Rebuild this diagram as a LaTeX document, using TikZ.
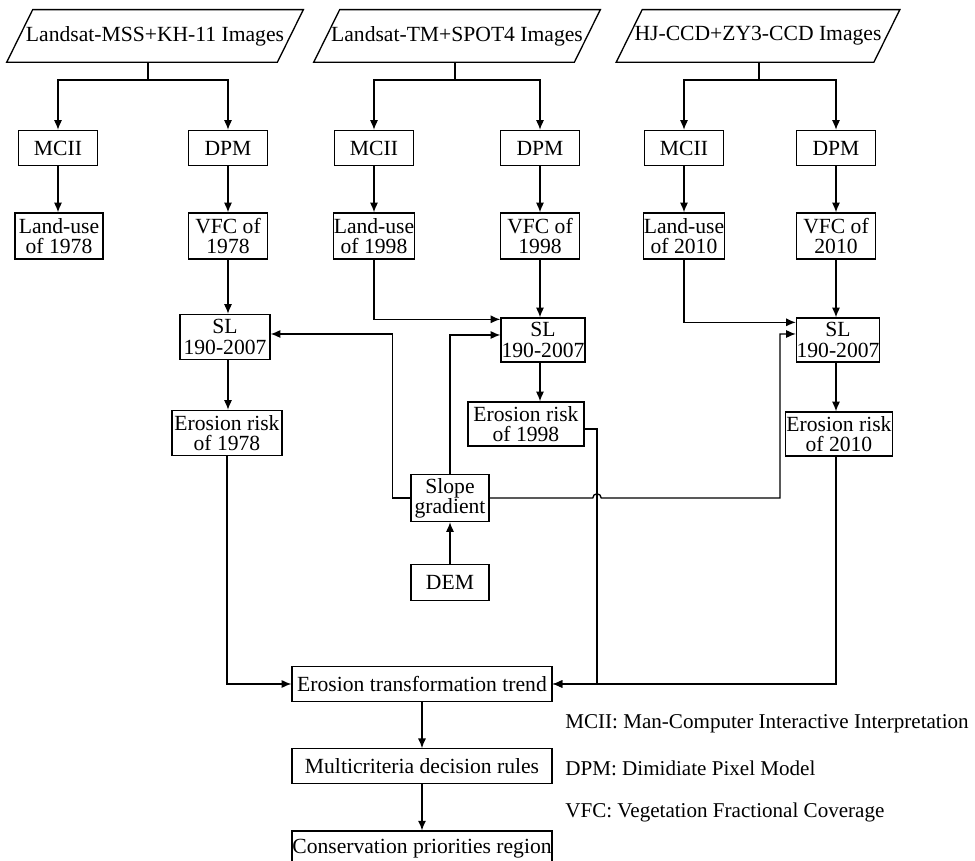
\documentclass[tikz,border=0pt]{standalone}
\usepackage{fontspec}
\setmainfont{Liberation Serif}
\usetikzlibrary{positioning,calc,arrows.meta}

\begin{document}
\begin{tikzpicture}[x=0.02cm,y=-0.02cm,font=\fontsize{12.3}{11.5}\selectfont,
		box/.style={draw=black,line width=0.75pt,align=center,inner sep=0pt,minimum width=1.58cm,minimum height=0.7cm},
		tall/.style={box,minimum height=0.92cm},
		imgbox/.style={inner sep=0pt,minimum width=#1,minimum height=1.04cm},
		legend/.style={anchor=west,inner sep=0pt,font=\fontsize{12}{12}\selectfont},
		link/.style={line width=0.75pt},
		arr/.style={link,-{Latex[length=5.5pt,width=4.6pt]}}]
		\useasboundingbox (0,0) rectangle (975,861);

		\node[imgbox=5.4cm] (img1) at (155,36) {Landsat-MSS+KH-11 Images};
		\node[imgbox=5.2cm] (img2) at (457,36) {Landsat-TM+SPOT4 Images};
		\node[imgbox=5.14cm] (img3) at (758,36) {HJ-CCD+ZY3-CCD Images};
		\foreach \i in {img1,img2,img3}
			\draw[link] ($(\i.north west)+(13,0)$)--($(\i.north east)+(13,0)$)--($(\i.south east)+(-13,0)$)--($(\i.south west)+(-13,0)$)--cycle;

		\node[box] (m1) at (58,148) {MCII};
		\node[box] (d1) at (228,148) {DPM};
		\node[box] (m2) at (374,148) {MCII};
		\node[box] (d2) at (540,148) {DPM};
		\node[box] (m3) at (684,148) {MCII};
		\node[box] (d3) at (836,148) {DPM};

		\node[tall,minimum width=1.76cm] (lu1) at (59,236) {Land-use\\of 1978};
		\node[tall] (v1) at (228,236) {VFC of\\1978};
		\node[tall] (lu2) at (374,236) {Land-use\\of 1998};
		\node[tall] (v2) at (540,236) {VFC of\\1998};
		\node[tall,minimum width=1.62cm] (lu3) at (684,236) {Land-use\\of 2010};
		\node[tall] (v3) at (836,236) {VFC of\\2010};

		\node[tall,minimum width=1.8cm,minimum height=0.9cm] (sl1) at (225,337) {SL\\190-2007};
		\node[tall,minimum width=1.68cm,minimum height=0.88cm] (sl2) at (543,340) {SL\\190-2007};
		\node[tall,minimum width=1.66cm,minimum height=0.88cm] (sl3) at (838,340) {SL\\190-2007};

		\node[tall,minimum width=2.2cm,minimum height=0.9cm] (er1) at (227,433) {Erosion risk\\of 1978};
		\node[tall,minimum width=2.32cm,minimum height=0.88cm] (er2) at (526,424) {Erosion risk\\of 1998};
		\node[tall,minimum width=2.14cm,minimum height=0.88cm] (er3) at (839,434) {Erosion risk\\of 2010};

		\node[tall,minimum width=1.56cm,minimum height=0.94cm] (slope) at (450,498) {Slope\\gradient};
		\node[box,minimum width=1.56cm,minimum height=0.72cm,below=0.84cm of slope] (dem) {DEM};

		\node[box,minimum width=5.2cm] (trend) at (422,684) {Erosion transformation trend};
		\node[box,minimum width=5.2cm,below=0.92cm of trend] (multi) {Multicriteria decision rules};
		\node[box,minimum width=5.2cm,below=0.92cm of multi] (cons) {Conservation priorities region};

		\node[legend] (leg1) at (565,724) {MCII: Man-Computer Interactive Interpretation};
		\node[legend] (leg2) at (565,768) {DPM: Dimidiate Pixel Model};
		\node[legend] (leg3) at (565,812) {VFC: Vegetation Fractional Coverage};

		\foreach \k/\x in {1/148,2/455,3/759}{
			\coordinate (f\k) at (\x,80);
			\draw[link] (img\k.south -| f\k)--(f\k);
			\draw[arr] (f\k)-|(m\k);
			\draw[arr] (f\k)-|(d\k);
			\draw[arr] (m\k)--(lu\k.north -| m\k);
			\draw[arr] (d\k)--(v\k);
			\draw[arr] (v\k)--(sl\k.north -| v\k);
			\draw[arr] (sl\k.south -| v\k)--(er\k.north -| v\k);
		}

		\draw[arr] (lu2.south)|-($(sl2.north west)+(0,2)$);
		\draw[arr] (lu3.south)|-($(sl3.north west)+(0,5)$);

		\coordinate (r2) at (597,429);
		\coordinate (k3) at (780,498);
		\draw[arr] (dem)--(slope);
		\draw[arr] (slope.west)--++(-18,0)|-($(sl1.east)+(0,-3)$);
		\draw[arr] (slope.north)|-($(sl2.west)+(0,-5)$);
		\draw[arr] (slope.east)--([xshift=-2.4pt]r2 |- slope.east) arc[start angle=180,end angle=0,radius=2.4pt]--(k3)|-($(sl3.west)+(0,-6)$);

		\draw[arr] (er1.south)|-(trend.west);
		\draw[arr] (er2.east |- r2)--(r2)|-(trend.east);
		\draw[arr] (er3.south -| v3)|-(trend.east);
		\draw[arr] (trend)--(multi);
		\draw[arr] (multi)--(cons);
	\end{tikzpicture}
\end{document}
